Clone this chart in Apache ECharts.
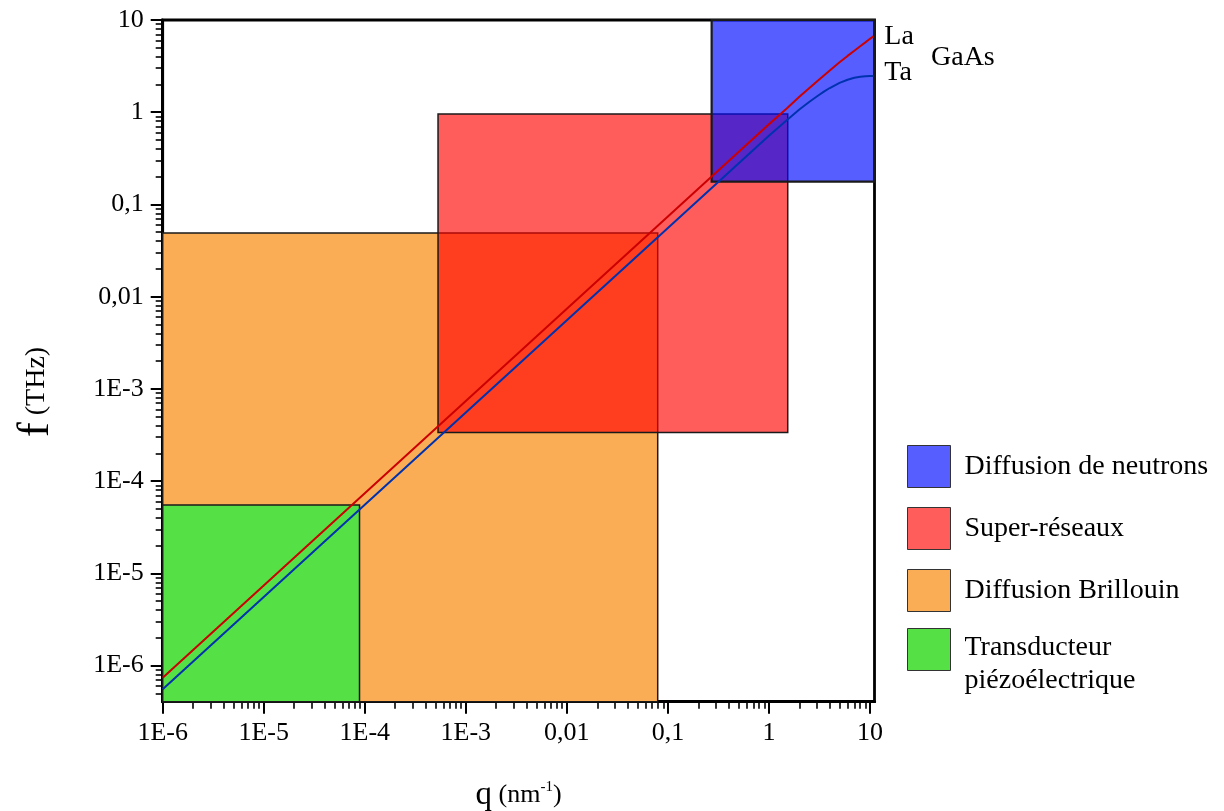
<!DOCTYPE html>
<html><head><meta charset="utf-8">
<script src="https://cdn.jsdelivr.net/npm/echarts@6/dist/echarts.min.js"></script>
<style>html,body{margin:0;padding:0;background:#fff}#c{width:1224px;height:811px}</style>
</head><body><div id="c"></div><script>
// ---- data ----
const tickValues = [1e-6, 1e-5, 1e-4, 1e-3, 0.01, 0.1, 1, 10];
const xTickLabels = ['1E-6', '1E-5', '1E-4', '1E-3', '0,01', '0,1', '1', '10'];
const yTickLabels = ['1E-6', '1E-5', '1E-4', '1E-3', '0,01', '0,1', '1', '10'];
const xMin = 1e-6, xMax = 11.09;
const yMin = 4.06e-7, yMax = 10;

// La (longitudinal acoustic) dispersion, GaAs
const qLa = [1e-6, 1e-5, 1e-4, 1e-3, 0.01, 0.1, 0.5, 1, 1.5, 2, 3, 4, 5, 6, 7, 8, 9, 10, 10.8];
const fLa = [7.4e-7, 7.4e-6, 7.4e-5, 7.4e-4, 7.4e-3, 0.074, 0.37, 0.74, 1.1, 1.47, 2.17, 2.84, 3.48, 4.08, 4.65, 5.2, 5.72, 6.25, 6.65];
// Ta (transverse acoustic) dispersion, GaAs
const qTa = [1e-6, 1e-5, 1e-4, 1e-3, 0.01, 0.1, 0.5, 1, 1.5, 2, 2.5, 3, 3.5, 4, 5, 6, 7, 8, 9, 10, 10.8];
const fTa = [5.55e-7, 5.55e-6, 5.55e-5, 5.55e-4, 5.55e-3, 0.0555, 0.278, 0.555, 0.82, 1.07, 1.29, 1.49, 1.67, 1.83, 2.08, 2.25, 2.36, 2.43, 2.46, 2.47, 2.47];

// Technique domains: [qMin, qMax, fMin, fMax]
const boxNeutrons = [0.271, 11.09, 0.177, 10];
const boxSuper = [5.31e-4, 1.535, 3.36e-4, 0.955];
const boxBrillouin = [1e-6, 0.0793, 4.06e-7, 0.049];
const boxPiezo = [1e-6, 8.87e-5, 4.06e-7, 5.52e-5];

const names = ['Diffusion de neutrons', 'Super-réseaux', 'Diffusion Brillouin', 'Transducteur piézoélectrique'];
const piezoLines = ['Transducteur', 'piézoélectrique'];

// ---- chart ----
const FONT = 'Liberation Serif';
const minorTicks = [];
for (let k = -7; k <= 1; k++) for (let d = 2; d <= 9; d++) minorTicks.push(d * Math.pow(10, k));
const minorX = minorTicks.filter(v => v > xMin && v < xMax);
const minorY = minorTicks.filter(v => v > yMin && v < yMax);

function lab(labels) {
  return v => {
    for (let i = 0; i < tickValues.length; i++) {
      if (Math.abs(Math.log10(v) - Math.log10(tickValues[i])) < 1e-6) return labels[i];
    }
    return '';
  };
}

function rectSeries(name, box, color, bw) {
  return {
    type: 'custom', name: name, data: [box], silent: true,
    encode: { x: [0, 1], y: [2, 3] },
    itemStyle: { color: color, borderColor: '#1a1a1a', borderWidth: bw },
    renderItem: function (params, api) {
      const p0 = api.coord([api.value(0), api.value(2)]);
      const p1 = api.coord([api.value(1), api.value(3)]);
      return {
        type: 'rect',
        shape: { x: Math.min(p0[0], p1[0]), y: Math.min(p0[1], p1[1]), width: Math.abs(p1[0] - p0[0]), height: Math.abs(p1[1] - p0[1]) },
        style: { fill: color, stroke: '#1a1a1a', lineWidth: bw }
      };
    }
  };
}

const legendBase = {
  orient: 'vertical', left: 907, padding: 0, icon: 'rect', itemWidth: 43, itemHeight: 42, itemGap: 19,
  itemStyle: { borderColor: '#333', borderWidth: 1 }
};

const chart = echarts.init(document.getElementById('c'), null, { renderer: 'canvas' });
chart.setOption({
  animation: false,
  backgroundColor: '#fff',
  textStyle: { fontFamily: FONT },
  title: { text: 'GaAs', left: 931, top: 44, padding: 0, textStyle: { fontFamily: FONT, fontSize: 28, fontWeight: 'normal', color: '#000' } },
  grid: { left: 162.7, right: 349.5, top: 20, bottom: 109.3, outerBoundsMode: 'none', containLabel: false,
    show: true, borderColor: '#000', borderWidth: 2.8, backgroundColor: 'transparent' },
  legend: [
    Object.assign({}, legendBase, {
      top: 445,
      textStyle: { fontFamily: FONT, fontSize: 28, color: '#000', padding: [0, 0, 0, 9] },
      data: [names[0], names[1], names[2]]
    }),
    Object.assign({}, legendBase, {
      top: 628,
      formatter: () => '{a|' + piezoLines[0] + '}\n{a|' + piezoLines[1] + '}',
      textStyle: { fontFamily: FONT, fontSize: 28, color: '#000', padding: [29, 0, 0, 9],
        rich: { a: { fontFamily: FONT, fontSize: 28, color: '#000', lineHeight: 33 } } },
      data: [names[3]]
    })
  ],
  xAxis: [{
    type: 'log', min: xMin, max: xMax, position: 'bottom',
    name: '{q|q}{n| (nm}{s|-1}{n|)}', nameLocation: 'middle', nameGap: 77,
    nameTextStyle: { rich: {
      q: { fontFamily: FONT, fontSize: 33, color: '#000' },
      n: { fontFamily: FONT, fontSize: 26, color: '#000' },
      s: { fontFamily: FONT, fontSize: 15, color: '#000', padding: [0, 0, 16, 0] }
    } },
    axisLine: { show: true, lineStyle: { color: '#000', width: 3 } },
    axisTick: { show: true, customValues: tickValues, length: 12, lineStyle: { color: '#000', width: 2 } },
    axisLabel: { customValues: tickValues, formatter: lab(xTickLabels), margin: 18, fontFamily: FONT, fontSize: 26, color: '#000' },
    splitLine: { show: false }, minorTick: { show: false }
  }, {
    type: 'log', min: xMin, max: xMax, position: 'bottom', gridIndex: 0,
    axisLine: { show: false },
    axisTick: { show: true, customValues: minorX, length: 7, lineStyle: { color: '#000', width: 1.6 } },
    axisLabel: { show: false }, splitLine: { show: false }
  }],
  yAxis: [{
    type: 'log', min: yMin, max: yMax, position: 'left',
    name: '{f|f}{t| (THz)}', nameLocation: 'middle', nameGap: 104,
    nameTextStyle: { padding: [0, 62, 0, 0], rich: {
      f: { fontFamily: FONT, fontSize: 44, color: '#000' },
      t: { fontFamily: FONT, fontSize: 28, color: '#000' }
    } },
    axisLine: { show: true, lineStyle: { color: '#000', width: 3 } },
    axisTick: { show: true, customValues: tickValues, length: 12, lineStyle: { color: '#000', width: 2 } },
    axisLabel: { customValues: tickValues, formatter: lab(yTickLabels), margin: 19, fontFamily: FONT, fontSize: 26, color: '#000' },
    splitLine: { show: false }, minorTick: { show: false }
  }, {
    type: 'log', min: yMin, max: yMax, position: 'left', gridIndex: 0,
    axisLine: { show: false },
    axisTick: { show: true, customValues: minorY, length: 7, lineStyle: { color: '#000', width: 1.6 } },
    axisLabel: { show: false }, splitLine: { show: false }
  }],
  series: [
    rectSeries(names[2], boxBrillouin, '#fbad55', 1.5),
    rectSeries(names[3], boxPiezo, '#55e045', 1.5),
    rectSeries(names[1], boxSuper, 'rgba(255,0,0,0.64)', 1.5),
    rectSeries(names[0], boxNeutrons, 'rgba(0,10,255,0.66)', 2.2),
    {
      type: 'line', name: 'La', data: qLa.map((q, i) => [q, fLa[i]]), symbol: 'none', z: 5,
      lineStyle: { color: '#cc0000', width: 2 }, itemStyle: { color: '#cc0000' },
      endLabel: { show: true, formatter: 'La', fontFamily: FONT, fontSize: 28, color: '#000', distance: 11 }
    },
    {
      type: 'line', name: 'Ta', data: qTa.map((q, i) => [q, fTa[i]]), symbol: 'none', z: 5,
      lineStyle: { color: '#0032b0', width: 2 }, itemStyle: { color: '#0032b0' },
      endLabel: { show: true, formatter: 'Ta', fontFamily: FONT, fontSize: 28, color: '#000', distance: 11, offset: [0, -3] }
    }
  ]
});
</script></body></html>
